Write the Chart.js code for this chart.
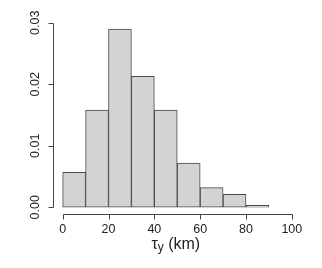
<!DOCTYPE html>
<html>
<head>
<meta charset="utf-8">
<script src="https://cdn.jsdelivr.net/npm/chart.js@4"></script>
<style>
  html, body { margin: 0; padding: 0; background: #fff; }
  #wrap { width: 322px; height: 268px; position: relative; }
</style>
</head>
<body>
<div id="wrap"><canvas id="hist"></canvas></div>
<script>
// Histogram bins (centres, km) and densities
const binCenters = [5, 15, 25, 35, 45, 55, 65, 75, 85];
const densities = [0.0057, 0.0158, 0.0290, 0.0213, 0.0158, 0.0072, 0.0032, 0.0021, 0.0003];
const xTicks = [0, 20, 40, 60, 80, 100];
const yTicks = [0, 0.01, 0.02, 0.03];
const yTickLabels = ['0.00', '0.01', '0.02', '0.03'];

const FONT = '"Liberation Sans", Arial, Helvetica, sans-serif';
const TICK = 5;

// R-style detached axes: lines, tick marks, rotated y labels, subscripted x title
const rAxes = {
    id: 'rAxes',
    afterDraw(chart) {
        const ctx = chart.ctx;
        const xs = chart.scales.x;
        const ys = chart.scales.y;
        const area = chart.chartArea;
        ctx.save();
        ctx.strokeStyle = '#444';
        ctx.lineWidth = 1;
        ctx.beginPath();
        const yb = Math.round(area.bottom) + 0.5;
        ctx.moveTo(Math.round(xs.getPixelForValue(xTicks[0])) + 0.5, yb);
        ctx.lineTo(Math.round(xs.getPixelForValue(xTicks[xTicks.length - 1])) + 0.5, yb);
        xTicks.forEach(v => {
            const px = Math.round(xs.getPixelForValue(v)) + 0.5;
            ctx.moveTo(px, yb);
            ctx.lineTo(px, yb + TICK);
        });
        const xl = Math.round(area.left) - 0.5;
        ctx.moveTo(xl, Math.round(ys.getPixelForValue(yTicks[0])) + 0.5);
        ctx.lineTo(xl, Math.round(ys.getPixelForValue(yTicks[yTicks.length - 1])) + 0.5);
        yTicks.forEach(v => {
            const py = Math.round(ys.getPixelForValue(v)) + 0.5;
            ctx.moveTo(xl, py);
            ctx.lineTo(xl - TICK, py);
        });
        ctx.stroke();

        // y tick labels, reading upwards
        ctx.fillStyle = '#222';
        ctx.font = '12.5px ' + FONT;
        ctx.textAlign = 'center';
        ctx.textBaseline = 'middle';
        yTicks.forEach((v, i) => {
            ctx.save();
            ctx.translate(area.left - 17.5, ys.getPixelForValue(v));
            ctx.rotate(-Math.PI / 2);
            ctx.fillText(yTickLabels[i], 0, 0);
            ctx.restore();
        });

        // x title: tau with subscript y
        const big = '16px ' + FONT;
        const small = '12px ' + FONT;
        ctx.textAlign = 'left';
        ctx.textBaseline = 'alphabetic';
        ctx.font = big;
        const wTau = ctx.measureText('τ').width;
        const wRest = ctx.measureText(' (km)').width;
        ctx.font = small;
        const wSub = ctx.measureText('y').width;
        const total = wTau + wSub + wRest;
        let x = (area.left + area.right) / 2 - total / 2 - 1.5;
        const base = area.bottom + 35;
        ctx.font = big;
        ctx.fillText('τ', x, base);
        x += wTau;
        ctx.font = small;
        ctx.fillText('y', x, base + 2);
        x += wSub;
        ctx.font = big;
        ctx.fillText(' (km)', x, base);
        ctx.restore();
    }
};

new Chart(document.getElementById('hist'), {
    type: 'bar',
    data: {
        datasets: [{
            data: binCenters.map((c, i) => ({ x: c, y: densities[i] })),
            backgroundColor: '#d3d3d3',
            borderColor: '#4a4a4a',
            borderWidth: 1,
            borderSkipped: false,
            barPercentage: 1,
            categoryPercentage: 1
        }]
    },
    options: {
        responsive: true,
        maintainAspectRatio: false,
        animation: false,
        events: [],
        layout: { padding: { top: 21.6, right: 21, left: 0, bottom: 0 } },
        plugins: {
            legend: { display: false },
            tooltip: { enabled: false }
        },
        scales: {
            x: {
                type: 'linear',
                offset: false,
                min: -4,
                max: 104,
                afterBuildTicks: (s) => { s.ticks = xTicks.map(v => ({ value: v })); },
                afterFit: (s) => { s.height = 53.6; },
                border: { display: false },
                grid: { display: true, drawOnChartArea: false, drawTicks: true, tickLength: TICK, color: 'rgba(0,0,0,0)' },
                ticks: {
                    color: '#222',
                    padding: 3,
                    maxRotation: 0,
                    font: { family: FONT, size: 12.5 }
                }
            },
            y: {
                type: 'linear',
                min: -0.00116,
                max: 0.0302,
                afterBuildTicks: (s) => { s.ticks = yTicks.map(v => ({ value: v })); },
                afterFit: (s) => { s.width = 53.5; },
                border: { display: false },
                grid: { display: false },
                ticks: { display: false }
            }
        }
    },
    plugins: [rAxes]
});
</script>
</body>
</html>
